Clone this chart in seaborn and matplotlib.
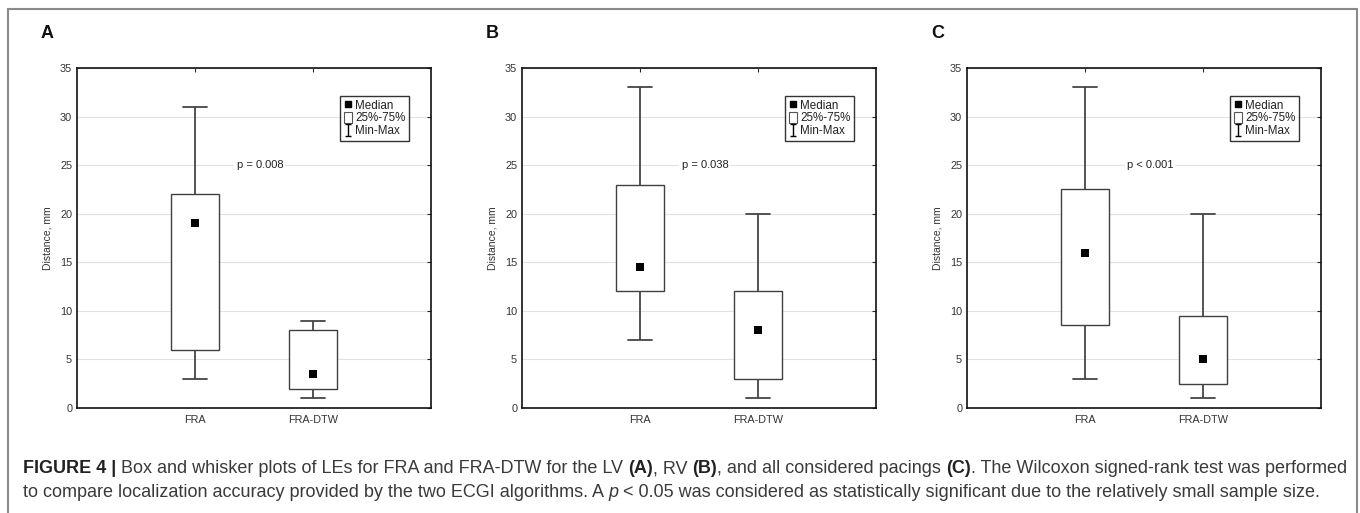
import numpy as np
import pandas as pd
import matplotlib
matplotlib.use("Agg")
import matplotlib.pyplot as plt
import seaborn as sns
from matplotlib.lines import Line2D
from matplotlib.patches import Patch
from matplotlib.path import Path

# --- data (min, q1, median, q3, max) ---
methods = ["FRA", "FRA-DTW"]
panel_letters = ["A", "B", "C"]
p_labels = ["p = 0.008", "p = 0.038", "p < 0.001"]

a_min = [3, 1]
a_q1 = [6, 2]
a_med = [19, 3.5]
a_q3 = [22, 8]
a_max = [31, 9]

b_min = [7, 1]
b_q1 = [12, 3]
b_med = [14.5, 8]
b_q3 = [23, 12]
b_max = [33, 20]

c_min = [3, 1]
c_q1 = [8.5, 2.5]
c_med = [16, 5]
c_q3 = [22.5, 9.5]
c_max = [33, 20]

y_ticks = [0, 5, 10, 15, 20, 25, 30, 35]

caption_1 = [("FIGURE 4 |", "bold", "normal"),
             (" Box and whisker plots of LEs for FRA and FRA-DTW for the LV ", "normal", "normal"),
             ("(A)", "bold", "normal"), (", RV ", "normal", "normal"),
             ("(B)", "bold", "normal"), (", and all considered pacings ", "normal", "normal"),
             ("(C)", "bold", "normal"),
             (". The Wilcoxon signed-rank test was performed", "normal", "normal")]
caption_2 = [("to compare localization accuracy provided by the two ECGI algorithms. A ", "normal", "normal"),
             ("p", "normal", "italic"),
             (" < 0.05 was considered as statistically significant due to the relatively small sample size.",
              "normal", "normal")]

sns.set_style("white")
plt.rcParams["font.family"] = ["Liberation Sans", "DejaVu Sans"]

W, H = 1360, 513
fig = plt.figure(figsize=(W / 100, H / 100), dpi=100)

# I-beam marker for the Min-Max legend entry
ibeam = Path([(-0.5, 1), (0.5, 1), (0, 1), (0, -1), (-0.5, -1), (0.5, -1)],
             [Path.MOVETO, Path.LINETO, Path.MOVETO, Path.LINETO, Path.MOVETO, Path.LINETO])

panel_stats = [(a_min, a_q1, a_med, a_q3, a_max),
               (b_min, b_q1, b_med, b_q3, b_max),
               (c_min, c_q1, c_med, c_q3, c_max)]
lefts = [77, 522, 967]
ax_w, ax_top, ax_bot = 354, 68, 408

for letter, p_txt, stats, left in zip(panel_letters, p_labels, panel_stats, lefts):
    ax = fig.add_axes([left / W, 1 - ax_bot / H, ax_w / W, (ax_bot - ax_top) / H])
    rows = []
    for i, m in enumerate(methods):
        for s in stats:
            rows.append({"method": m, "value": s[i]})
    df = pd.DataFrame(rows)

    # five-number data with whiskers at 0/100 percentile -> exact box stats
    sns.boxplot(data=df, x="method", y="value", order=methods, whis=(0, 100),
                width=0.4, color="white", linecolor="#404040", linewidth=1.0,
                showfliers=False, medianprops={"visible": False},
                whiskerprops={"color": "#454545", "linewidth": 1.3},
                capprops={"color": "#454545", "linewidth": 1.3}, ax=ax)
    med = pd.DataFrame({"method": methods, "value": stats[2]})
    sns.stripplot(data=med, x="method", y="value", order=methods, jitter=False,
                  marker="s", size=5.5, color="black", linewidth=0, ax=ax, zorder=5)

    ax.set_xlim(-1, 2)
    ax.set_ylim(0, 35)
    ax.set_yticks(y_ticks)
    ax.yaxis.grid(True, color="#e2e2e2", linewidth=0.8)
    ax.set_axisbelow(True)
    for sp in ax.spines.values():
        sp.set_color("#111111")
        sp.set_linewidth(1.2)
    ax.tick_params(axis="both", direction="in", length=3, width=0.8,
                   top=True, right=True, labelsize=7.8, labelcolor="#333333")
    ax.tick_params(axis="y", pad=3.5)
    ax.tick_params(axis="x", pad=5)
    ax.set_xlabel("")
    ax.set_ylabel("Distance, mm", fontsize=7.5, color="#333333")
    ax.yaxis.set_label_coords(-0.068, 0.5)

    ax.text(0.55, 25, p_txt, ha="center", va="center", fontsize=8, color="#222222",
            bbox=dict(facecolor="white", edgecolor="none", pad=1.5), zorder=3)

    handles = [Line2D([], [], ls="none", marker="s", color="black", markersize=5),
               Patch(facecolor="white", edgecolor="#555555", linewidth=0.8),
               Line2D([], [], ls="none", marker=ibeam, color="black", markersize=8,
                      markeredgewidth=1.0, fillstyle="none")]
    leg = ax.legend(handles, ["Median", "25%-75%", "Min-Max"], loc="upper right",
                    bbox_to_anchor=(0.938, 0.918), fontsize=8.4, frameon=True, fancybox=False,
                    handlelength=0.7, handleheight=1.0, handletextpad=0.3,
                    borderpad=0.3, labelspacing=0.05, borderaxespad=0)
    leg.get_frame().set_edgecolor("black")
    leg.get_frame().set_linewidth(1.0)
    for t in leg.get_texts():
        t.set_color("#222222")

    fig.text((left - 36) / W, 1 - 34 / H, letter, fontsize=13, fontweight="bold",
             ha="left", va="center", color="#111111")

# outer frame (open at the bottom)
frame_c = "#8a8a8a"
xl, xr, yt = 7.5 / W, 1356.5 / W, 1 - 9 / H
fig.add_artist(Line2D([xl, xl], [0, yt], color=frame_c, lw=1.5, transform=fig.transFigure))
fig.add_artist(Line2D([xr, xr], [0, yt], color=frame_c, lw=1.5, transform=fig.transFigure))
fig.add_artist(Line2D([xl, xr], [yt, yt], color=frame_c, lw=1.5, transform=fig.transFigure))

# caption, drawn run by run
renderer = fig.canvas.get_renderer()


def draw_runs(x_px, y_px, runs, size):
    x = x_px
    for txt, weight, style in runs:
        color = "#222222" if weight == "bold" else "#3a3a3a"
        t = fig.text(x / W, 1 - y_px / H, txt, fontsize=size, fontweight=weight,
                     fontstyle=style, color=color, ha="left", va="baseline")
        bb = t.get_window_extent(renderer)
        x = bb.x1


draw_runs(23, 473, caption_1, 13.0)
draw_runs(23, 497, caption_2, 13.0)

fig.savefig("out.png", dpi=100)
